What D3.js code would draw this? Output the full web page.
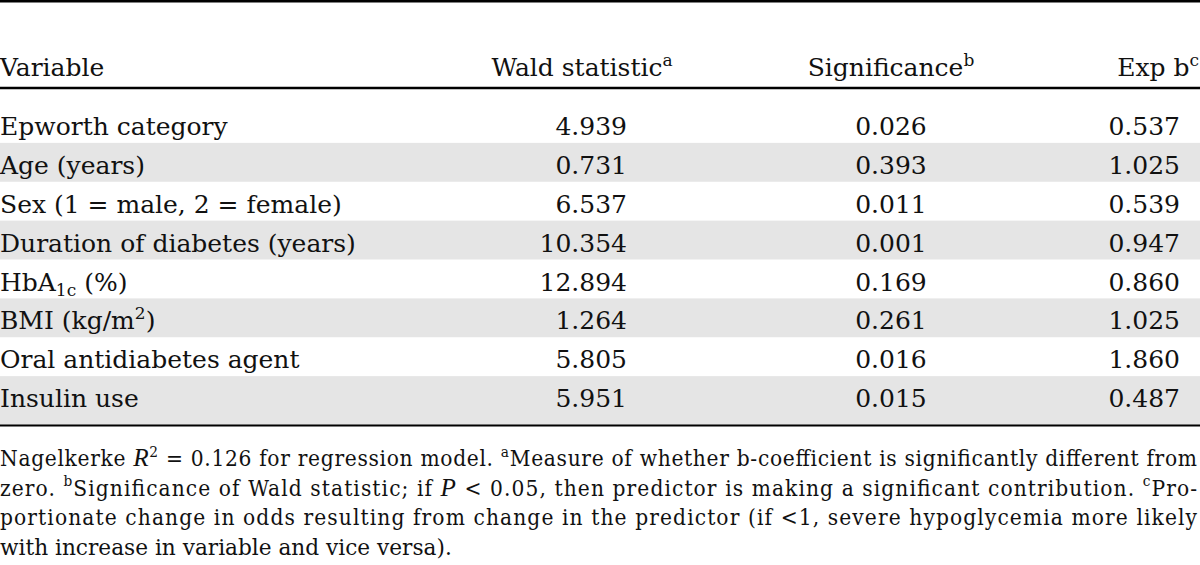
<!DOCTYPE html>
<html>
<head>
<meta charset="utf-8">
<script src="https://cdn.jsdelivr.net/npm/d3@7"></script>
<style>
  html, body { margin: 0; padding: 0; background: #fff; }
  svg { display: block; }
  text { font-family: "DejaVu Serif", "Liberation Serif", serif; fill: #111; }
</style>
</head>
<body>
<div id="chart"></div>
<script>
// ---- data ----
const headers = ["Variable", "Wald statistic^{a}", "Significance^{b}", "Exp b^{c}"];
const variables = [
  "Epworth category",
  "Age (years)",
  "Sex (1 = male, 2 = female)",
  "Duration of diabetes (years)",
  "HbA_{1c} (%)",
  "BMI (kg/m^{2})",
  "Oral antidiabetes agent",
  "Insulin use"
];
const wald = [4.939, 0.731, 6.537, 10.354, 12.894, 1.264, 5.805, 5.951];
const significance = [0.026, 0.393, 0.011, 0.001, 0.169, 0.261, 0.016, 0.015];
const expB = [0.537, 1.025, 0.539, 0.947, 0.860, 1.025, 1.860, 0.487];
const footnoteLines = [
  "Nagelkerke *R*^{2} = 0.126 for regression model. ^{a}Measure of whether b-coefficient is significantly different from",
  "zero. ^{b}Significance of Wald statistic; if *P* < 0.05, then predictor is making a significant contribution. ^{c}Pro-",
  "portionate change in odds resulting from change in the predictor (if <1, severe hypoglycemia more likely",
  "with increase in variable and vice versa)."
];

// ---- layout ----
const W = 1200, H = 565;
const bodySize = 25, noteSize = 22.5;
const fmt = d3.format(".3f");

const svg = d3.select("#chart").append("svg")
  .attr("width", W).attr("height", H).attr("viewBox", `0 0 ${W} ${H}`);

const rowY = d3.scaleBand()
  .domain(d3.range(variables.length))
  .range([104, 415]);

const tableBottom = 425.5;

const cols = [
  { hx: 0,    ha: "start",  bx: 0,    ba: "start" },
  { hx: 582,  ha: "middle", bx: 627,  ba: "end" },
  { hx: 891,  ha: "middle", bx: 891,  ba: "middle" },
  { hx: 1199, ha: "end",    bx: 1180, ba: "end" }
];

function rich(textSel, str) {
  const parts = str.split(/(\^\{[^}]*\}|_\{[^}]*\}|\*[^*]+\*)/).filter(s => s.length);
  let offset = 0;
  const base = parseFloat(textSel.attr("font-size"));
  parts.forEach(p => {
    const t = textSel.append("tspan");
    let target = 0, content = p, small = false, italic = false;
    if (p.startsWith("^{")) { target = -0.42; content = p.slice(2, -1); small = true; }
    else if (p.startsWith("_{")) { target = 0.22; content = p.slice(2, -1); small = true; }
    else if (p.startsWith("*")) { content = p.slice(1, -1); italic = true; }
    const dy = (target - offset) * base;
    if (Math.abs(dy) > 0.01) t.attr("dy", dy);
    offset = target;
    if (small) t.attr("font-size", base * 0.68);
    if (italic) t.attr("font-style", "italic").style("font-family", '"Liberation Serif", serif').attr("font-size", base * 1.12);
    t.text(content);
  });
}

// shaded rows
svg.append("g").selectAll("rect")
  .data(d3.range(variables.length).filter(i => i % 2 === 1))
  .join("rect")
  .attr("x", 0)
  .attr("width", W)
  .attr("y", i => rowY(i))
  .attr("height", i => i === variables.length - 1 ? tableBottom - rowY(i) : rowY.bandwidth())
  .attr("fill", "#e5e5e5");

// rules
const rules = [{ y: 1.2, w: 2.6 }, { y: 88, w: 2.6 }, { y: tableBottom, w: 2.2 }];
svg.append("g").selectAll("line")
  .data(rules)
  .join("line")
  .attr("x1", 0).attr("x2", W)
  .attr("y1", d => d.y).attr("y2", d => d.y)
  .attr("stroke", "#000").attr("stroke-width", d => d.w);

// headers
headers.forEach((h, j) => {
  const t = svg.append("text")
    .attr("x", cols[j].hx).attr("y", 76)
    .attr("text-anchor", cols[j].ha)
    .attr("font-size", bodySize);
  rich(t, h);
});

// body rows
const rows = svg.append("g").selectAll("g.row")
  .data(variables.map((v, i) => ({ i, cells: [v, fmt(wald[i]), fmt(significance[i]), fmt(expB[i])] })))
  .join("g").attr("class", "row");

rows.each(function(d) {
  const g = d3.select(this);
  d.cells.forEach((c, j) => {
    const t = g.append("text")
      .attr("x", cols[j].bx)
      .attr("y", rowY(d.i) + 31)
      .attr("text-anchor", cols[j].ba)
      .attr("font-size", bodySize);
    rich(t, c);
  });
});

// footnote (condensed face, justified; last line stretched to its reference length)
const noteBase = [466, 495.5, 525, 555.5];
const noteWidths = [1197, 1197, 1197, 452];
const noteTexts = footnoteLines.map((line, k) => {
  const t = svg.append("text")
    .attr("x", 0).attr("y", noteBase[k])
    .attr("font-size", noteSize)
    .style("font-stretch", "condensed");
  rich(t, line);
  return t;
});
noteTexts.forEach((t, k) => {
  const nat = t.node().getBBox().width;
  if (k < noteTexts.length - 1) {
    t.attr("textLength", noteWidths[k])
     .attr("lengthAdjust", nat > noteWidths[k] ? "spacingAndGlyphs" : "spacing");
  } else {
    const sx = noteWidths[k] / nat;
    t.attr("transform", `scale(${sx},1)`);
  }
});
</script>
</body>
</html>
